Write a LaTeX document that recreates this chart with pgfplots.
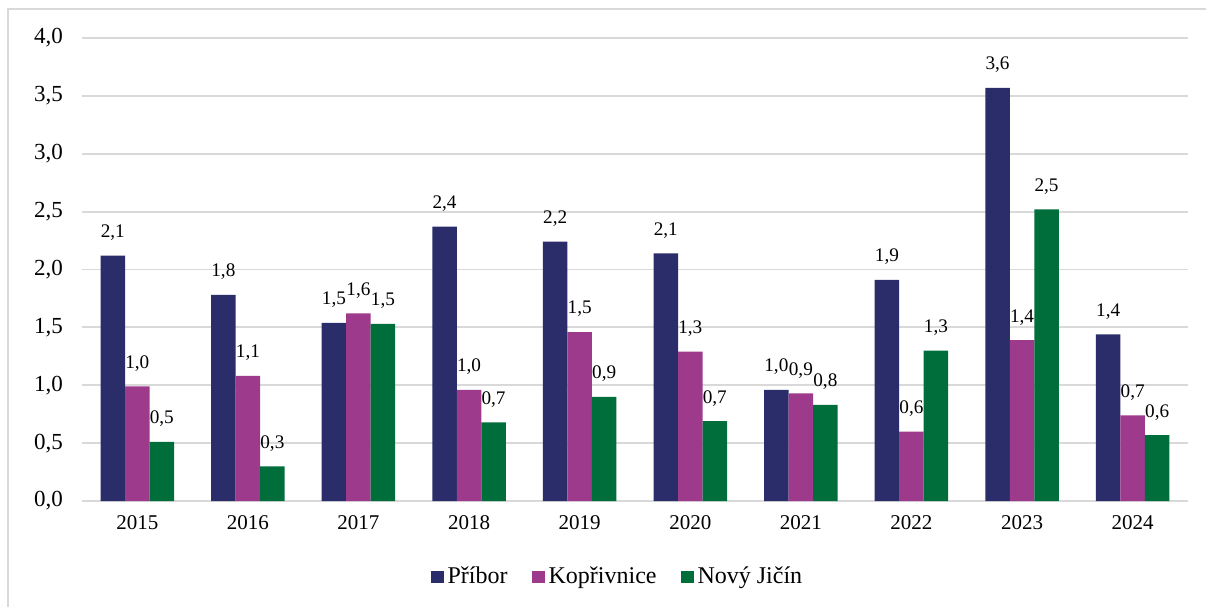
\documentclass[border=0pt]{standalone}
\usepackage{fontspec}
\setmainfont{Liberation Serif}
\usepackage{pgfplots}
\pgfplotsset{compat=1.18}
\definecolor{cP}{HTML}{2A2D69}
\definecolor{cK}{HTML}{9E3A8C}
\definecolor{cN}{HTML}{006E3A}
\definecolor{gridc}{HTML}{D9D9D9}
\begin{document}
\begin{tikzpicture}
\path[use as bounding box] (0,0) rectangle (603pt,303.5pt);
\draw[gridc, line width=1pt] (4pt,0) -- (4pt,299pt) -- (603pt,299pt);
\begin{axis}[
  at={(41pt,53pt)}, anchor=south west,
  width=553pt, height=231.5pt, scale only axis,
  ybar=0pt, bar width=12.25pt,
  xmin=-0.5, xmax=9.5, ymin=0, ymax=4,
  xtick={0,...,9},
  xticklabels={2015,2016,2017,2018,2019,2020,2021,2022,2023,2024},
  ytick={0,0.5,...,4},
  major tick length=0pt,
  axis line style={draw=none},
  ymajorgrids, grid style={gridc, line width=0.9pt},
  /pgf/number format/.cd, fixed, fixed zerofill, precision=1, use comma, assume math mode=true,
  /pgfplots/.cd,
  yticklabel style={font=\fontsize{11.5}{13}\selectfont, xshift=-6pt},
  xticklabel style={font=\fontsize{10.5}{12}\selectfont, yshift=-3.5pt},
  nodes near coords,
  nodes near coords style={font=\fontsize{9.6}{11}\selectfont, text=black, anchor=south, yshift=4pt},
  legend columns=3,
  legend style={at={(0.485,-0.164)}, anchor=center, draw=none, font=\fontsize{12}{14}\selectfont,
    /tikz/every even column/.append style={column sep=10pt}, inner sep=0pt},
  legend image code/.code={\fill[#1] (0pt,-3.2pt) rectangle (6.5pt,3.2pt);},
]
\addplot[fill=cP, draw=none] coordinates {(0,2.12) (1,1.78) (2,1.54) (3,2.37) (4,2.24) (5,2.14) (6,0.96) (7,1.91) (8,3.57) (9,1.44)};
\addplot[fill=cK, draw=none] coordinates {(0,0.99) (1,1.08) (2,1.62) (3,0.96) (4,1.46) (5,1.29) (6,0.93) (7,0.60) (8,1.39) (9,0.74)};
\addplot[fill=cN, draw=none] coordinates {(0,0.51) (1,0.30) (2,1.53) (3,0.68) (4,0.90) (5,0.69) (6,0.83) (7,1.30) (8,2.52) (9,0.57)};
\legend{Příbor, Kopřivnice, Nový Jičín}
\end{axis}
\end{tikzpicture}
\end{document}
